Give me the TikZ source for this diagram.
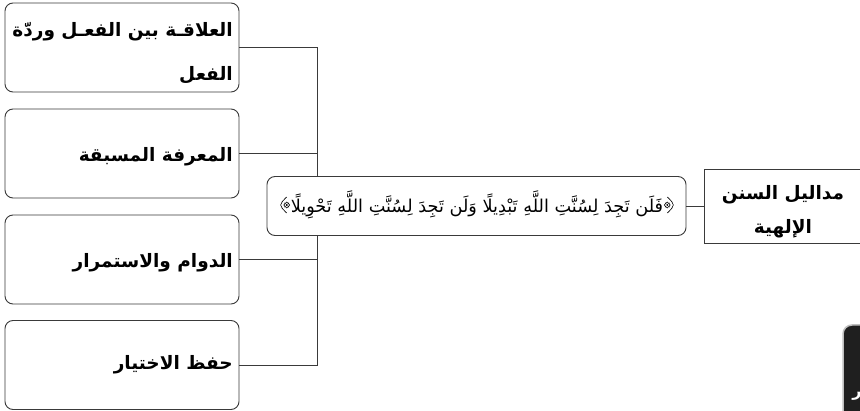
\documentclass[tikz,border=0pt]{standalone}
\usepackage{fontspec}
\newfontfamily\arabicfont[Script=Arabic]{DejaVu Sans}
\TeXXeTstate=1
\definecolor{linec}{HTML}{3A3A3A}
\tikzset{
  sidebox/.style={draw=linec, line width=0.9pt, rounded corners=8pt, fill=white, minimum width=234pt, minimum height=89pt, inner sep=0pt},
  versebox/.style={draw=linec, line width=0.9pt, rounded corners=8pt, fill=white, minimum width=419pt, minimum height=59pt, inner sep=0pt},
  titlebox/.style={draw=linec, line width=0.9pt, fill=white, minimum width=170pt, minimum height=74pt, inner sep=0pt},
  conn/.style={draw=linec, line width=0.8pt},
  lbl/.style={font=\arabicfont\bfseries\fontsize{18.5}{20}\selectfont, inner sep=0pt, text=black},
  verse/.style={font=\arabicfont\fontsize{17.7}{20}\selectfont, inner sep=0pt, text=black},
  orn/.style={draw=black, line width=0.6pt},
  flower/.pic={
    \draw[line width=0.5pt] (0,-3) -- (3,0) -- (0,3) -- (-3,0) -- cycle;
    \fill (0,0) circle (1.1pt);
    \foreach \a in {45,135,225,315} \fill (\a:2.6) circle (0.6pt);
  }
}
\begin{document}
\begin{tikzpicture}[x=1pt,y=-1pt]
\useasboundingbox (0,0) rectangle (860,411);
\clip (0,0) rectangle (860,411);
% side boxes
\node[sidebox] (b1) at (122,47.5) {};
\node[sidebox] (b2) at (122,153.5) {};
\node[sidebox] (b3) at (122,259.5) {};
\node[sidebox] (b4) at (122,365) {};
\coordinate (v) at (317,0);
% connectors
\draw[conn] (b1.east) -- (b1.east -| v) -- (b4.east -| v) -- (b4.east);
\draw[conn] (b2.east) -- (b2.east -| v);
\draw[conn] (b3.east) -- (b3.east -| v);
% verse box
\node[versebox] (m) at (476.5,206) {};
\node[titlebox] (t) at (789,206) {};
\draw[conn] (m.east) -- (t.west);
% texts
\node[lbl, anchor=east] (l1a) at (233,32) {\beginR العلاقـة بين الفعـل وردّة\endR};
\node[lbl, anchor=east] (l1b) at (233,75) {\beginR الفعل\endR};
\node[lbl, anchor=east] (l2) at (233,157) {\beginR المعرفة المسبقة\endR};
\node[lbl, anchor=east] (l3) at (233,263) {\beginR الدوام والاستمرار\endR};
\node[lbl, anchor=east] (l4) at (233,365) {\beginR حفظ الاختيار\endR};
\node[verse] (vt) at (477,205) {\beginR فَلَن تَجِدَ لِسُنَّتِ اللَّهِ تَبْدِيلًا وَلَن تَجِدَ لِسُنَّتِ اللَّهِ تَحْوِيلًا\endR};
% ornate brackets drawn as shapes
\coordinate (ol) at (vt.west);
\coordinate (or) at (vt.east);
\draw[orn] ([xshift=-4pt,yshift=-8pt]ol) .. controls ([xshift=-9pt,yshift=-3pt]ol) .. ([xshift=-10pt]ol) .. controls ([xshift=-9pt,yshift=3pt]ol) .. ([xshift=-4pt,yshift=8pt]ol);
\pic at ([xshift=-4pt]ol) {flower};
\draw[orn] ([xshift=4pt,yshift=-8pt]or) .. controls ([xshift=9pt,yshift=-3pt]or) .. ([xshift=10pt]or) .. controls ([xshift=9pt,yshift=3pt]or) .. ([xshift=4pt,yshift=8pt]or);
\pic at ([xshift=4pt]or) {flower};
\node[lbl] (t1) at (783,195) {\beginR مداليل السنن\endR};
\node[lbl] (t2) at (783,229) {\beginR الإلهية\endR};
% black tab
\fill[fill=black!88, draw=gray!50, line width=1.5pt, rounded corners=9pt] (843,325) rectangle (890,440);
\node[font=\arabicfont\bfseries\fontsize{16}{18}\selectfont, text=white, inner sep=0pt] (tab) at (857,396) {\beginR ر\endR};
\end{tikzpicture}
\end{document}
